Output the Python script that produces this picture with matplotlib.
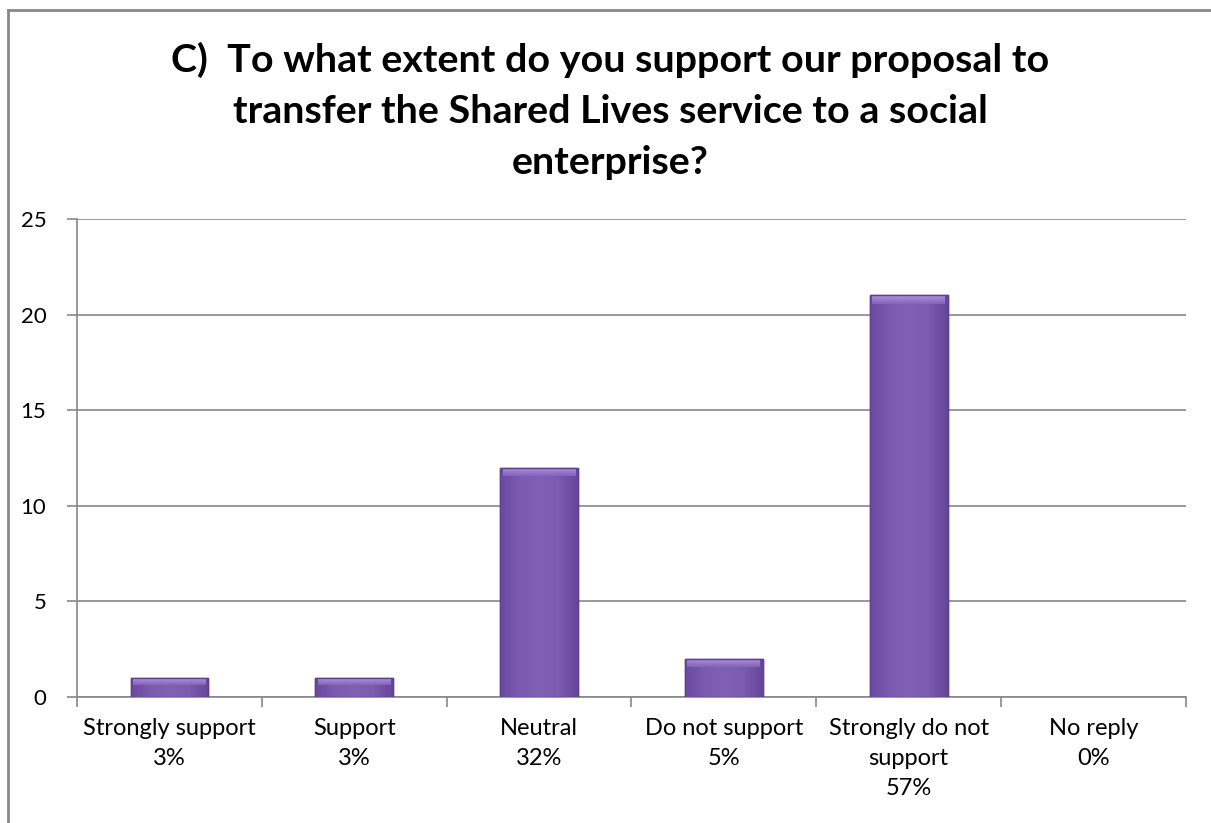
import numpy as np
import matplotlib
matplotlib.use("Agg")
import matplotlib.pyplot as plt
from matplotlib.colors import LinearSegmentedColormap

# survey answers
categories = ["Strongly support", "Support", "Neutral", "Do not support",
              "Strongly do not\nsupport", "No reply"]
percent_labels = ["3%", "3%", "32%", "5%", "57%", "0%"]
responses = [1, 1, 12, 2, 21, 0]
y_ticks = [0, 5, 10, 15, 20, 25]

title_lines = ["C)  To what extent do you support our proposal to",
               "transfer the Shared Lives service to a social",
               "enterprise?"]

plt.rcParams["font.family"] = ["Lato", "DejaVu Sans"]

fig = plt.figure(figsize=(12.11, 8.23), dpi=100)
ax = fig.add_axes([77 / 1211, 1 - 697 / 823, (1186 - 77) / 1211, (697 - 219) / 823])

x = np.arange(len(categories))
bar_w = 0.42
edge_cols = ["#5e4190" if v > 0 else "none" for v in responses]
bars = ax.bar(x, responses, width=bar_w, color="#7a5aae", edgecolor=edge_cols,
              linewidth=1.0, zorder=3)

# bevelled look: soft horizontal shading, lighter cap on top
shade = LinearSegmentedColormap.from_list(
    "bevel", ["#6a4aa0", "#7b5ab0", "#8060b4", "#7c5bb0", "#64469a"])
grad = np.linspace(0, 1, 64).reshape(1, -1)
cap_shade = LinearSegmentedColormap.from_list("cap", ["#8566bb", "#b89ae6"])
cap_grad = np.linspace(0, 1, 32).reshape(-1, 1)
for rect, v in zip(bars, responses):
    if v <= 0:
        continue
    x0 = rect.get_x()
    w = rect.get_width()
    im = ax.imshow(grad, cmap=shade, aspect="auto", zorder=3.5,
                   extent=(x0, x0 + w, 0, v), interpolation="bicubic")
    im.set_clip_path(rect)
    cap = min(0.45, v * 0.35)
    top = ax.imshow(cap_grad, cmap=cap_shade, aspect="auto", zorder=4,
                    extent=(x0 + w * 0.03, x0 + w * 0.97, v - cap, v),
                    interpolation="bicubic", origin="lower", alpha=0.9)
    top.set_clip_path(rect)
    ax.bar(rect.get_x() + w / 2, v, width=w, fill=False,
           edgecolor="#5e4190", linewidth=1.0, zorder=4.5)
ax.set_xlim(-0.5, len(categories) - 0.5)
ax.set_ylim(0, 25)
ax.set_yticks(y_ticks)
ax.tick_params(axis="y", length=7, width=1.2, color="#888888", pad=15,
               labelsize=16)
ax.yaxis.grid(True, color="#888888", linewidth=1.2, zorder=0)
ax.set_axisbelow(True)

ax.set_xticks(np.arange(len(categories) + 1) - 0.5, minor=False)
ax.set_xticklabels([])
ax.tick_params(axis="x", length=7, width=1.2, color="#888888")
ax.set_xticks(x, minor=True)
ax.set_xticklabels([c + "\n" + p for c, p in zip(categories, percent_labels)],
                   minor=True, fontsize=17, linespacing=1.52, va="top")
ax.tick_params(axis="x", which="minor", length=0, pad=15)

for side in ["top", "right"]:
    ax.spines[side].set_visible(False)
for side in ["left", "bottom"]:
    ax.spines[side].set_color("#888888")
    ax.spines[side].set_linewidth(1.2)

# title, three centred lines
title_y = [72, 123, 174]
for t, ty in zip(title_lines, title_y):
    fig.text(610 / 1211, 1 - ty / 823, t, ha="center", va="baseline",
             fontsize=28.4, fontweight="bold", color="black")

# chart area frame
fig.add_artist(plt.Line2D([7.5 / 1211, 1], [1 - 9.5 / 823] * 2,
                          transform=fig.transFigure, color="#878787", lw=2))
fig.add_artist(plt.Line2D([7.5 / 1211] * 2, [0, 1 - 9.5 / 823],
                          transform=fig.transFigure, color="#878787", lw=2))

fig.savefig("out.png", dpi=100)
